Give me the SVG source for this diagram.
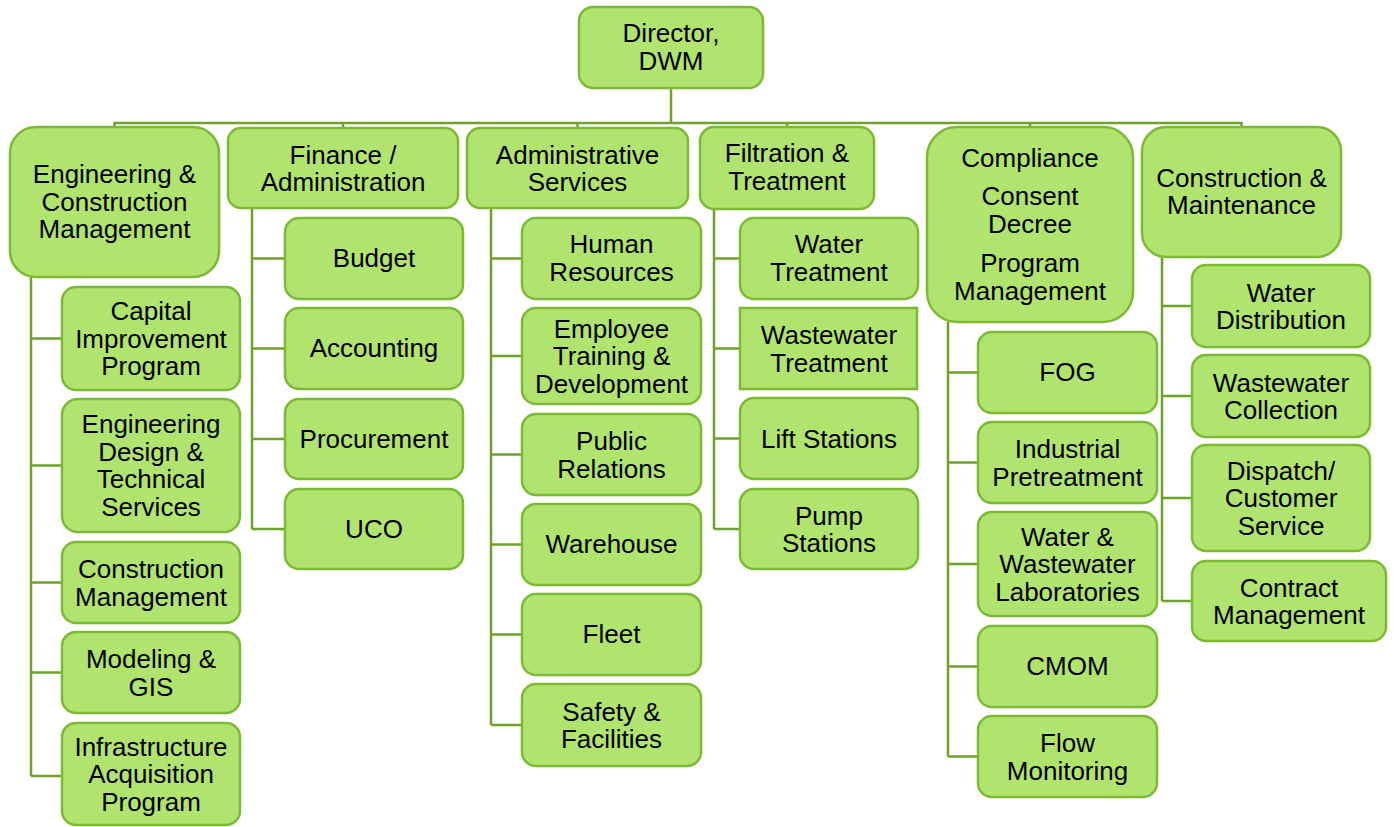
<svg xmlns="http://www.w3.org/2000/svg" width="1394" height="827" viewBox="0 0 1394 827">
<style>
.box{fill:#B1E46F;stroke:#7DBA33;stroke-width:2.5}
.t{font-family:"Liberation Sans",Arial,sans-serif;font-size:26px;text-anchor:middle;fill:#000}
.c{stroke:#6DA32A;stroke-width:2.5;fill:none}
</style>
<rect width="1394" height="827" fill="#fff"/>
<g id="connectors" class="c">
<path d="M671 88V123M114.5 127V123H1241.5V127M343 123V128M577.5 123V128M787 123V127M1030 123V127"/>
<path d="M31 277V776M31 338.5H62M31 465.5H62M31 582.5H62M31 672.5H62M31 776H62"/>
<path d="M252 208V529M252 258.5H285M252 348.5H285M252 439H285M252 529H285"/>
<path d="M491 208V725M491 258.5H522M491 356H522M491 454.5H522M491 544.5H522M491 634.5H522M491 725H522"/>
<path d="M714 209V529M714 258.5H740M714 348.5H740M714 438.5H740M714 529H740"/>
<path d="M948 322V756.5M948 372.5H978M948 462.5H978M948 564H978M948 666.5H978M948 756.5H978"/>
<path d="M1162 257V601M1162 306H1192M1162 396H1192M1162 498H1192M1162 601H1192"/>
</g>
<g id="director"><rect class="box" x="579" y="7" width="184" height="81" rx="14"/><text class="t" x="671" y="42">Director,</text><text class="t" x="671" y="70">DWM</text></g>
<g id="eng"><rect class="box" x="10" y="127" width="209" height="150" rx="26"/><text class="t" x="114.5" y="183">Engineering &amp;</text><text class="t" x="114.5" y="210.5">Construction</text><text class="t" x="114.5" y="238">Management</text></g>
<g id="finance"><rect class="box" x="228" y="128" width="230" height="80" rx="13"/><text class="t" x="343" y="163.5">Finance /</text><text class="t" x="343" y="191">Administration</text></g>
<g id="admin"><rect class="box" x="467" y="128" width="221" height="80" rx="13"/><text class="t" x="577.5" y="163.5">Administrative</text><text class="t" x="577.5" y="191">Services</text></g>
<g id="filtration"><rect class="box" x="700" y="127" width="174" height="82" rx="14"/><text class="t" x="787" y="162">Filtration &amp;</text><text class="t" x="787" y="190">Treatment</text></g>
<g id="compliance"><rect class="box" x="927" y="127" width="206" height="195" rx="30"/><text class="t" x="1030" y="167">Compliance</text><text class="t" x="1030" y="205">Consent</text><text class="t" x="1030" y="233">Decree</text><text class="t" x="1030" y="271.5">Program</text><text class="t" x="1030" y="299.5">Management</text></g>
<g id="cm"><rect class="box" x="1142" y="127" width="199" height="130" rx="24"/><text class="t" x="1241.5" y="186.5">Construction &amp;</text><text class="t" x="1241.5" y="214">Maintenance</text></g>

<g id="cip"><rect class="box" x="62" y="287" width="178" height="103" rx="14"/><text class="t" x="151" y="320">Capital</text><text class="t" x="151" y="347.5">Improvement</text><text class="t" x="151" y="375">Program</text></g>
<g id="edts"><rect class="box" x="62" y="399" width="178" height="133" rx="16"/><text class="t" x="151" y="433">Engineering</text><text class="t" x="151" y="460.5">Design &amp;</text><text class="t" x="151" y="488">Technical</text><text class="t" x="151" y="515.5">Services</text></g>
<g id="constmgmt"><rect class="box" x="62" y="542" width="178" height="81" rx="14"/><text class="t" x="151" y="578">Construction</text><text class="t" x="151" y="605.5">Management</text></g>
<g id="gis"><rect class="box" x="62" y="632" width="178" height="81" rx="14"/><text class="t" x="151" y="668">Modeling &amp;</text><text class="t" x="151" y="695.5">GIS</text></g>
<g id="iap"><rect class="box" x="62" y="723" width="178" height="102" rx="14"/><text class="t" x="151" y="755.5">Infrastructure</text><text class="t" x="151" y="783">Acquisition</text><text class="t" x="151" y="810.5">Program</text></g>

<g id="budget"><rect class="box" x="285" y="218" width="178" height="81" rx="14"/><text class="t" x="374" y="267">Budget</text></g>
<g id="accounting"><rect class="box" x="285" y="308" width="178" height="81" rx="14"/><text class="t" x="374" y="357">Accounting</text></g>
<g id="procurement"><rect class="box" x="285" y="399" width="178" height="80" rx="14"/><text class="t" x="374" y="447.5">Procurement</text></g>
<g id="uco"><rect class="box" x="285" y="489" width="178" height="80" rx="14"/><text class="t" x="374" y="537.5">UCO</text></g>

<g id="hr"><rect class="box" x="522" y="218" width="179" height="81" rx="14"/><text class="t" x="611.5" y="253">Human</text><text class="t" x="611.5" y="280.5">Resources</text></g>
<g id="training"><rect class="box" x="522" y="308" width="179" height="96" rx="14"/><text class="t" x="611.5" y="337.5">Employee</text><text class="t" x="611.5" y="365">Training &amp;</text><text class="t" x="611.5" y="392.5">Development</text></g>
<g id="pr"><rect class="box" x="522" y="414" width="179" height="81" rx="14"/><text class="t" x="611.5" y="450">Public</text><text class="t" x="611.5" y="477.5">Relations</text></g>
<g id="warehouse"><rect class="box" x="522" y="504" width="179" height="81" rx="14"/><text class="t" x="611.5" y="553">Warehouse</text></g>
<g id="fleet"><rect class="box" x="522" y="594" width="179" height="81" rx="14"/><text class="t" x="611.5" y="643">Fleet</text></g>
<g id="safety"><rect class="box" x="522" y="684" width="179" height="82" rx="14"/><text class="t" x="611.5" y="720.5">Safety &amp;</text><text class="t" x="611.5" y="748">Facilities</text></g>

<g id="wt"><rect class="box" x="740" y="218" width="178" height="81" rx="14"/><text class="t" x="829" y="253">Water</text><text class="t" x="829" y="280.5">Treatment</text></g>
<g id="wwt"><rect class="box" x="740" y="308" width="177" height="81"/><text class="t" x="829" y="344">Wastewater</text><text class="t" x="829" y="371.5">Treatment</text></g>
<g id="lift"><rect class="box" x="740" y="398" width="178" height="81" rx="14"/><text class="t" x="829" y="447.5">Lift Stations</text></g>
<g id="pump"><rect class="box" x="740" y="489" width="178" height="80" rx="14"/><text class="t" x="829" y="524.5">Pump</text><text class="t" x="829" y="552">Stations</text></g>

<g id="fog"><rect class="box" x="978" y="332" width="179" height="81" rx="14"/><text class="t" x="1067.5" y="381">FOG</text></g>
<g id="ipt"><rect class="box" x="978" y="422" width="179" height="81" rx="14"/><text class="t" x="1067.5" y="458">Industrial</text><text class="t" x="1067.5" y="485.5">Pretreatment</text></g>
<g id="labs"><rect class="box" x="978" y="512" width="179" height="104" rx="14"/><text class="t" x="1067.5" y="545.5">Water &amp;</text><text class="t" x="1067.5" y="573">Wastewater</text><text class="t" x="1067.5" y="600.5">Laboratories</text></g>
<g id="cmom"><rect class="box" x="978" y="626" width="179" height="81" rx="14"/><text class="t" x="1067.5" y="675">CMOM</text></g>
<g id="flow"><rect class="box" x="978" y="716" width="179" height="81" rx="14"/><text class="t" x="1067.5" y="752">Flow</text><text class="t" x="1067.5" y="779.5">Monitoring</text></g>

<g id="wd"><rect class="box" x="1192" y="265" width="178" height="82" rx="14"/><text class="t" x="1281" y="301.5">Water</text><text class="t" x="1281" y="329">Distribution</text></g>
<g id="wwc"><rect class="box" x="1192" y="355" width="178" height="82" rx="14"/><text class="t" x="1281" y="391.5">Wastewater</text><text class="t" x="1281" y="419">Collection</text></g>
<g id="dispatch"><rect class="box" x="1192" y="445" width="178" height="106" rx="14"/><text class="t" x="1281" y="479.5">Dispatch/</text><text class="t" x="1281" y="507">Customer</text><text class="t" x="1281" y="534.5">Service</text></g>
<g id="contract"><rect class="box" x="1192" y="561" width="194" height="80" rx="14"/><text class="t" x="1289" y="596.5">Contract</text><text class="t" x="1289" y="624">Management</text></g>
</svg>
